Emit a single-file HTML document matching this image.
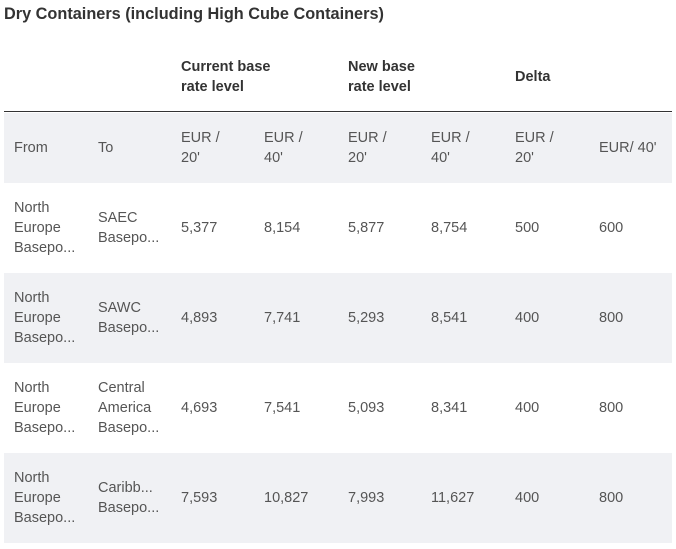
<!DOCTYPE html>
<html><head><style>
body{margin:0;width:676px;height:549px;background:#fff;font-family:"Liberation Sans",sans-serif;position:relative;overflow:hidden}
.t{position:absolute;left:4px;top:5px;font-size:16.3px;font-weight:bold;color:#333}
.g{position:absolute;font-size:14.5px;font-weight:bold;color:#333;line-height:20px}
.line{position:absolute;left:4px;width:668px;top:111px;height:1px;background:#333}
.row{position:absolute;left:4px;width:668px;height:90px}
.gray{background:#f0f1f4}
.c{position:absolute;font-size:14.5px;color:#555;line-height:20px;top:50%;transform:translateY(-50%)}
</style></head><body>
<div class="t">Dry Containers (including High Cube Containers)</div>
<div class="g" style="left:181px;top:57px">Current base<br>rate level</div>
<div class="g" style="left:348px;top:57px">New base<br>rate level</div>
<div class="g" style="left:515px;top:67px">Delta</div>
<div class="line"></div>
<div class="row gray" style="top:113px;height:70px">
<div class="c" style="left:10px">From</div><div class="c" style="left:94px">To</div>
<div class="c" style="left:177px">EUR /<br>20'</div><div class="c" style="left:260px">EUR /<br>40'</div>
<div class="c" style="left:344px">EUR /<br>20'</div><div class="c" style="left:427px">EUR /<br>40'</div>
<div class="c" style="left:511px">EUR /<br>20'</div><div class="c" style="left:595px">EUR/ 40'</div>
</div>
<div class="row" style="top:183px">
<div class="c" style="left:10px">North<br>Europe<br>Basepo...</div><div class="c" style="left:94px">SAEC<br>Basepo...</div>
<div class="c" style="left:177px">5,377</div><div class="c" style="left:260px">8,154</div>
<div class="c" style="left:344px">5,877</div><div class="c" style="left:427px">8,754</div>
<div class="c" style="left:511px">500</div><div class="c" style="left:595px">600</div>
</div>
<div class="row gray" style="top:273px">
<div class="c" style="left:10px">North<br>Europe<br>Basepo...</div><div class="c" style="left:94px">SAWC<br>Basepo...</div>
<div class="c" style="left:177px">4,893</div><div class="c" style="left:260px">7,741</div>
<div class="c" style="left:344px">5,293</div><div class="c" style="left:427px">8,541</div>
<div class="c" style="left:511px">400</div><div class="c" style="left:595px">800</div>
</div>
<div class="row" style="top:363px">
<div class="c" style="left:10px">North<br>Europe<br>Basepo...</div><div class="c" style="left:94px">Central<br>America<br>Basepo...</div>
<div class="c" style="left:177px">4,693</div><div class="c" style="left:260px">7,541</div>
<div class="c" style="left:344px">5,093</div><div class="c" style="left:427px">8,341</div>
<div class="c" style="left:511px">400</div><div class="c" style="left:595px">800</div>
</div>
<div class="row gray" style="top:453px">
<div class="c" style="left:10px">North<br>Europe<br>Basepo...</div><div class="c" style="left:94px">Caribb...<br>Basepo...</div>
<div class="c" style="left:177px">7,593</div><div class="c" style="left:260px">10,827</div>
<div class="c" style="left:344px">7,993</div><div class="c" style="left:427px">11,627</div>
<div class="c" style="left:511px">400</div><div class="c" style="left:595px">800</div>
</div>
</body></html>
